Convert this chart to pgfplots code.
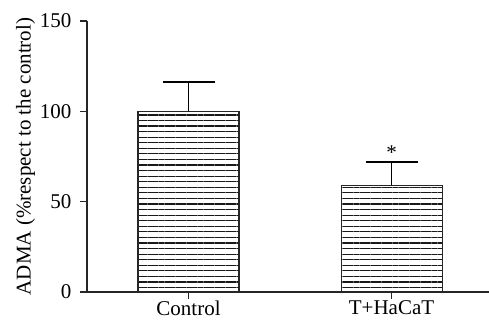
\documentclass[border=0pt]{standalone}
\usepackage{pgfplots}
\pgfplotsset{compat=1.18}
\usepackage{fontspec}
\setmainfont{Liberation Serif}
\usetikzlibrary{patterns.meta}
\begin{document}
\begin{tikzpicture}
\begin{axis}[
  name=ax,
  scale only axis,
  width=402pt, height=271pt,
  xmin=-0.5, xmax=1.48,
  ymin=0, ymax=150,
  axis lines=left,
  axis line style={line width=1.1pt, color=black!85, -},
  ytick={0,50,100,150},
  xtick={0,1},
  xticklabels={Control, T+HaCaT},
  tick align=outside,
  major tick length=7pt,
  tick style={line width=1.1pt, color=black!85},
  ticklabel style={font=\fontsize{21}{23}\selectfont},
  /pgf/number format/assume math mode=true,
  xticklabel style={yshift=2pt},
  yticklabel style={xshift=-5pt},
  ylabel={ADMA (\%respect to the control)},
  ylabel style={font=\fontsize{21}{23}\selectfont, yshift=-2pt},
  clip=false,
]
\addplot[ybar, bar width=101pt, draw=black!85, line width=1.1pt,
  pattern={Lines[angle=0, distance=5.57pt, line width=1.2pt]}, pattern color=black!90,
  error bars/.cd, y dir=plus, y explicit,
  error bar style={line width=1.1pt, color=black},
  error mark options={rotate=90, mark size=26pt, line width=2pt, color=black}]
coordinates {
  (0,100) +- (0,16.5)
  (1,59) +- (0,13)
};
\node[anchor=south, font=\fontsize{21}{23}\selectfont, inner sep=1pt] at (axis cs:1,72.5) {*};
\end{axis}
\pgfresetboundingbox
\path ([shift={(-87pt,-29pt)}]ax.south west) rectangle ([shift={(0pt,21pt)}]ax.north east);
\end{tikzpicture}
\end{document}
